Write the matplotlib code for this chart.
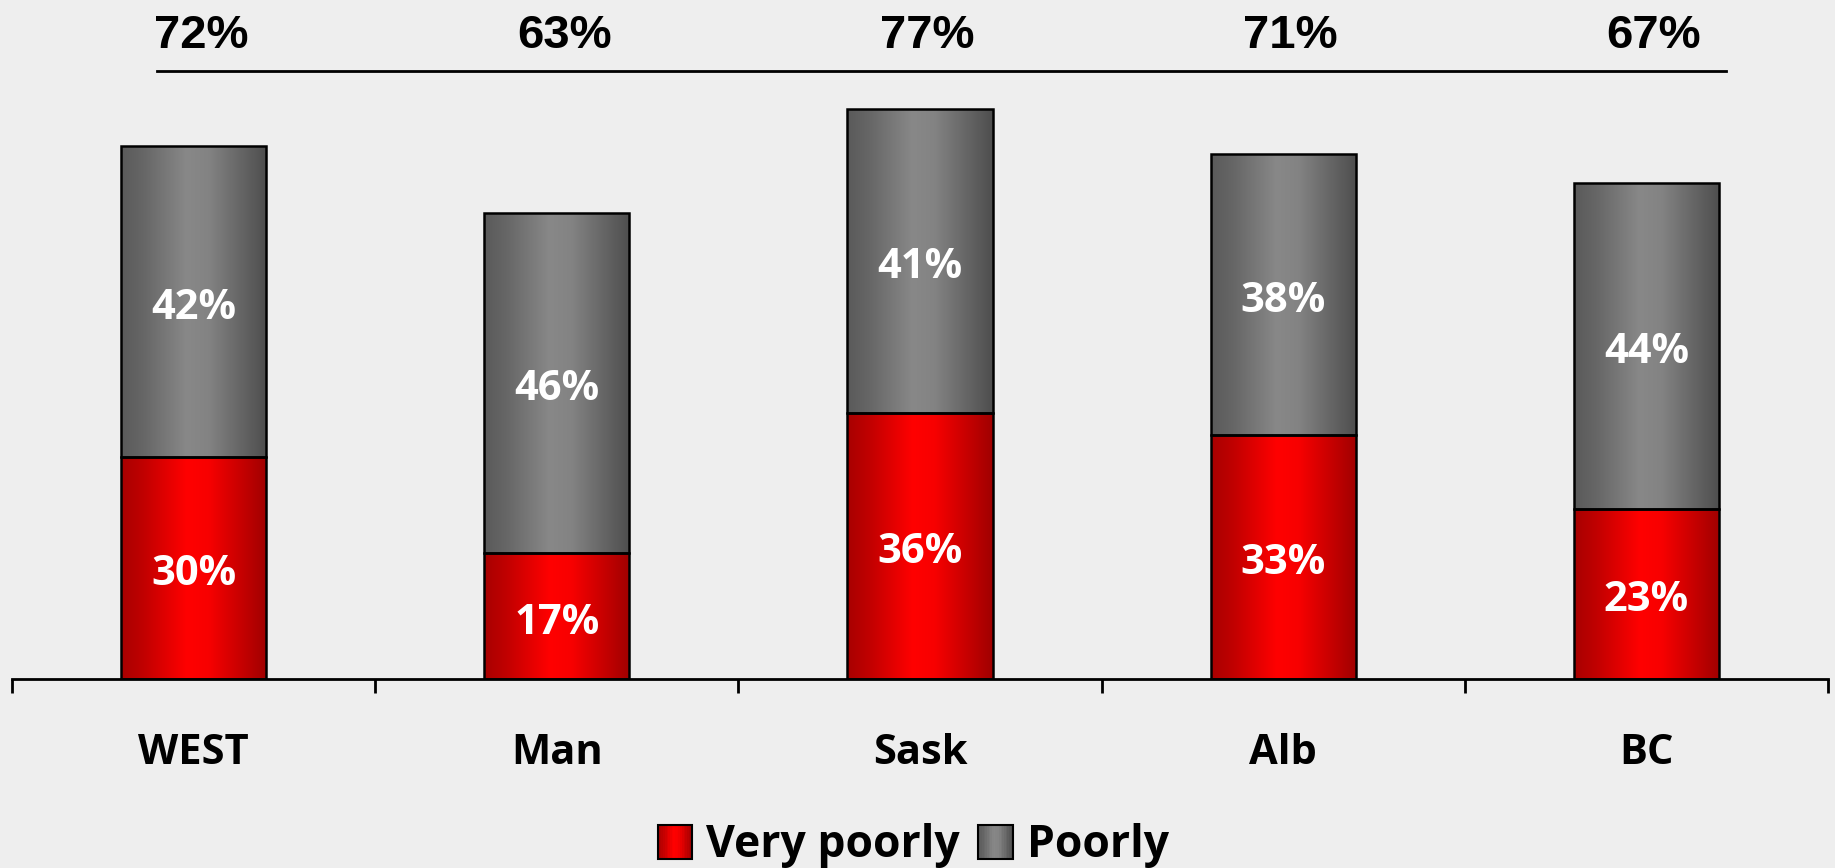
import numpy as np
import matplotlib
matplotlib.use("Agg")
import matplotlib.pyplot as plt
from matplotlib.colors import LinearSegmentedColormap
from matplotlib.patches import Patch, Rectangle
from matplotlib.legend_handler import HandlerPatch

categories = ["WEST", "Man", "Sask", "Alb", "BC"]
very_poorly = [30, 17, 36, 33, 23]
poorly = [42, 46, 41, 38, 44]
totals = ["72%", "63%", "77%", "71%", "67%"]
series_names = ["Very poorly", "Poorly"]

BG = "#EEEEEE"
LABEL_FONT = ["Open Sans", "DejaVu Sans"]
TOTAL_FONT = ["Liberation Sans", "DejaVu Sans"]

red_cmap = LinearSegmentedColormap.from_list(
    "red", [(0, "#A80000"), (0.15, "#C00000"), (0.45, "#FF0000"), (0.6, "#F80000"), (1.0, "#A00000")])
gray_cmap = LinearSegmentedColormap.from_list(
    "gray", [(0, "#5A5A5A"), (0.15, "#666666"), (0.45, "#888888"), (0.6, "#838383"), (1.0, "#4E4E4E")])

W, H = 1835, 868
fig = plt.figure(figsize=(W / 100, H / 100), dpi=100, facecolor=BG)
px_per_pct = 7.4
base_y = 679
ax = fig.add_axes([12 / W, 1 - base_y / H, (1828 - 12) / W, base_y / H])
ax.set_facecolor(BG)

x = np.arange(len(categories))
width = 0.4
grad = np.linspace(0, 1, 256).reshape(1, -1)

def gradient_bars(bottoms, heights, cmap):
    bars = ax.bar(x, heights, width, bottom=bottoms, facecolor="none",
                  edgecolor="black", linewidth=1.8, zorder=3)
    for b in bars:
        bx, by = b.get_x(), b.get_y()
        im = ax.imshow(grad, cmap=cmap, aspect="auto", zorder=2,
                       extent=[bx, bx + b.get_width(), by, by + b.get_height()])
        im.set_clip_path(b)
    return bars

gradient_bars([0] * len(x), very_poorly, red_cmap)
gradient_bars(very_poorly, poorly, gray_cmap)
ax.set_xlim(-0.5, len(categories) - 0.5)
ax.set_ylim(0, base_y / px_per_pct)

for i in range(len(x)):
    ax.annotate(f"{very_poorly[i]}%", (x[i], very_poorly[i] / 2), xytext=(0, -5),
                textcoords="offset points", ha="center", va="center",
                color="white", fontsize=30, fontweight="bold", family=LABEL_FONT, zorder=4)
    ax.annotate(f"{poorly[i]}%", (x[i], very_poorly[i] + poorly[i] / 2), xytext=(0, -5),
                textcoords="offset points", ha="center", va="center",
                color="white", fontsize=30, fontweight="bold", family=LABEL_FONT, zorder=4)
    ax.text(x[i] + 0.02, (base_y - 36) / px_per_pct, totals[i], ha="center", va="center",
            color="black", fontsize=34, fontweight="bold", family=TOTAL_FONT, zorder=4)

line_y = (base_y - 71) / px_per_pct
ax.plot([x[0] - 0.1, x[-1] + 0.22], [line_y, line_y], color="black", lw=2, clip_on=False)

for s in ["left", "right", "top"]:
    ax.spines[s].set_visible(False)
ax.spines["bottom"].set_linewidth(2)
ax.set_yticks([])
ax.set_xticks(np.arange(-0.5, len(categories), 1.0))
ax.set_xticklabels([])
ax.tick_params(axis="x", which="major", direction="out", length=10, width=2)
ax.set_xticks(x, minor=True)
ax.set_xticklabels(categories, minor=True, fontsize=30, fontweight="bold", family=LABEL_FONT)
ax.tick_params(axis="x", which="minor", length=0, pad=39)

class GradHandler(HandlerPatch):
    def __init__(self, cmap):
        super().__init__()
        self.cmap = cmap
    def create_artists(self, legend, orig_handle, xdescent, ydescent, width, height, fontsize, trans):
        s = height * 1.1
        x0 = -xdescent + (width - s) / 2
        y0 = -ydescent + (height - s) / 2
        arts = []
        n = 20
        for k in range(n):
            r = Rectangle((x0 + s * k / n, y0), s / n + 0.3, s, facecolor=self.cmap((k + 0.5) / n),
                          edgecolor="none", transform=trans)
            arts.append(r)
        arts.append(Rectangle((x0, y0), s, s, facecolor="none", edgecolor="black", lw=1.5, transform=trans))
        return arts

h1 = Patch(label=series_names[0])
h2 = Patch(label=series_names[1])
fig.legend(handles=[h1, h2], labels=series_names, loc="center", bbox_to_anchor=(913 / W, 1 - 846 / H),
           ncol=2, frameon=False, handler_map={h1: GradHandler(red_cmap), h2: GradHandler(gray_cmap)},
           prop={"family": LABEL_FONT, "size": 32, "weight": "bold"},
           handlelength=0.8, handletextpad=0.3, columnspacing=0.4)

fig.savefig("out.png", dpi=100, facecolor=BG)
